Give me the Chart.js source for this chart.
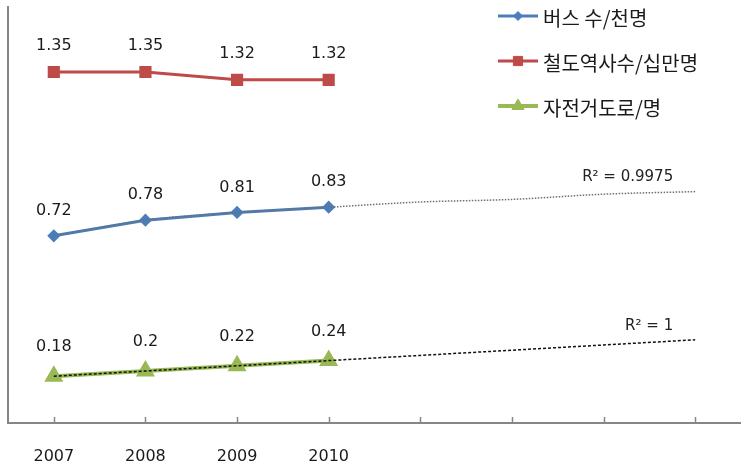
<!DOCTYPE html>
<html>
<head>
<meta charset="utf-8">
<script src="https://cdn.jsdelivr.net/npm/chart.js@4.4.1/dist/chart.umd.min.js"></script>
<style>
  html, body { margin: 0; padding: 0; background: #fff; overflow: hidden; }
  canvas { display: block; }
</style>
</head>
<body>
<canvas id="myChart" width="741" height="469"></canvas>
<script>
// categories - the empty slots leave room for the trendline forecast
const years = ["2007", "2008", "2009", "2010", "", "", "", ""];

// series values
const busPerThousand = [0.72, 0.78, 0.81, 0.83];
const stationsPer100k = [1.35, 1.35, 1.32, 1.32];
const bikeRoadPerPerson = [0.18, 0.2, 0.22, 0.24];

// trendlines
const busTrend = [0.72, 0.78, 0.81, 0.83, 0.85, 0.86, 0.88, 0.89];
const bikeTrend = [0.18, 0.2, 0.22, 0.24, 0.26, 0.28, 0.30, 0.32];
const busR2 = "R\u00B2 = 0.9975";
const bikeR2 = "R\u00B2 = 1";

const seriesNames = ["버스 수/천명", "철도역사수/십만명", "자전거도로/명"];

const numFont = "16px 'DejaVu Sans', sans-serif";

// data labels above each point
const valueLabels = {
  id: "valueLabels",
  afterDatasetsDraw(chart) {
    const ctx = chart.ctx;
    ctx.save();
    ctx.font = numFont;
    ctx.fillStyle = "#1a1a1a";
    ctx.textAlign = "center";
    ctx.textBaseline = "middle";
    chart.data.datasets.forEach((ds, i) => {
      if (!ds.labelOffset) return;
      chart.getDatasetMeta(i).data.forEach((pt, j) => {
        ctx.fillText(String(ds.data[j]), pt.x, pt.y - ds.labelOffset);
      });
    });
    // R squared texts near trendline ends
    chart.data.datasets.forEach((ds, i) => {
      if (!ds.r2) return;
      const pts = chart.getDatasetMeta(i).data;
      const last = pts[pts.length - 1];
      ctx.font = "15px 'DejaVu Sans', sans-serif";
      ctx.fillStyle = "#222";
      ctx.textAlign = "right";
      ctx.fillText(ds.r2, last.x - 22, last.y - 14);
    });
    ctx.restore();
  },
};

// tick marks pointing up into the plot, and the legend box
const axisExtras = {
  id: "axisExtras",
  afterDraw(chart) {
    const ctx = chart.ctx;
    const xs = chart.scales.x;
    const bottom = chart.chartArea.bottom;
    ctx.save();
    ctx.strokeStyle = "#868686";
    ctx.lineWidth = 1.5;
    years.forEach((y, i) => {
      const x = Math.round(xs.getPixelForTick(i)) + 0.5;
      ctx.beginPath();
      ctx.moveTo(x, bottom - 6);
      ctx.lineTo(x, bottom);
      ctx.stroke();
    });

    // legend
    const rows = [16, 61, 106];
    let r = 0;
    chart.data.datasets.forEach((ds) => {
      if (!ds.labelOffset) return;
      const y = rows[r++];
      ctx.strokeStyle = ds.borderColor;
      ctx.lineWidth = ds.borderWidth;
      ctx.beginPath();
      ctx.moveTo(498, y);
      ctx.lineTo(538, y);
      ctx.stroke();
      ctx.fillStyle = ds.pointBackgroundColor;
      ctx.strokeStyle = ds.pointBorderColor;
      ctx.lineWidth = 1;
      Chart.helpers.drawPoint(ctx, {
        pointStyle: ds.pointStyle,
        radius: ds.pointRadius,
        rotation: 0,
        borderWidth: 1,
      }, 518, y);
      ctx.fillStyle = "#1a1a1a";
      ctx.font = "20px 'Noto Sans CJK KR', sans-serif";
      ctx.textAlign = "left";
      ctx.textBaseline = "middle";
      ctx.fillText(ds.label, 543, y + 2);
    });
    ctx.restore();
  },
};

const data = {
  labels: years,
  datasets: [
    {
      label: "busTrend",
      data: busTrend,
      r2: busR2,
      borderColor: "#6f6f6f",
      borderWidth: 1.5,
      borderDash: [1.5, 1.5],
      pointRadius: 0,
      cubicInterpolationMode: "monotone",
      order: 0,
    },
    {
      label: "bikeTrend",
      data: bikeTrend,
      r2: bikeR2,
      borderColor: "#111",
      borderWidth: 1.5,
      borderDash: [3, 2],
      pointRadius: 0,
      order: 0,
    },
    {
      label: seriesNames[0],
      data: busPerThousand,
      labelOffset: 25,
      borderColor: "#4a7ebb",
      borderWidth: 3,
      pointStyle: "rectRot",
      pointRadius: 4.5,
      pointBackgroundColor: "#4a7ebb",
      pointBorderColor: "#4a7ebb",
      order: 1,
    },
    {
      label: seriesNames[1],
      data: stationsPer100k,
      labelOffset: 26,
      borderColor: "#be4b48",
      borderWidth: 3,
      pointStyle: "rect",
      pointRadius: 6.5,
      pointBackgroundColor: "#be4b48",
      pointBorderColor: "#be4b48",
      order: 1,
    },
    {
      label: seriesNames[2],
      data: bikeRoadPerPerson,
      labelOffset: 29,
      borderColor: "#98b954",
      borderWidth: 4,
      pointStyle: "triangle",
      pointRadius: 7,
      pointBackgroundColor: "#98b954",
      pointBorderColor: "#98b954",
      order: 1,
    },
  ],
};

const config = {
  type: "line",
  data,
  options: {
    responsive: false,
    animation: false,
    layout: { autoPadding: false, padding: { left: 7, right: 0, top: 7, bottom: 4 } },
    plugins: {
      legend: { display: false },
      tooltip: { enabled: false },
    },
    scales: {
      x: {
        offset: true,
        grid: { display: true, drawOnChartArea: false, drawTicks: false, offset: false },
        border: { display: true, color: "#868686", width: 2 },
        ticks: {
          autoSkip: false,
          maxRotation: 0,
          padding: 24,
          color: "#1a1a1a",
          font: { family: "'DejaVu Sans', sans-serif", size: 16 },
        },
        afterFit(scale) {
          scale.height = 42;
          scale.paddingLeft = 0;
          scale.paddingRight = 0;
        },
      },
      y: {
        min: 0,
        max: 1.6,
        grid: { display: false },
        border: { display: true, color: "#868686", width: 2 },
        ticks: { display: false },
        afterFit(scale) {
          scale.width = 1;
          scale.paddingTop = 0;
          scale.paddingBottom = 0;
        },
      },
    },
  },
  plugins: [valueLabels, axisExtras],
};

const myChart = new Chart(document.getElementById("myChart"), config);
</script>
</body>
</html>
